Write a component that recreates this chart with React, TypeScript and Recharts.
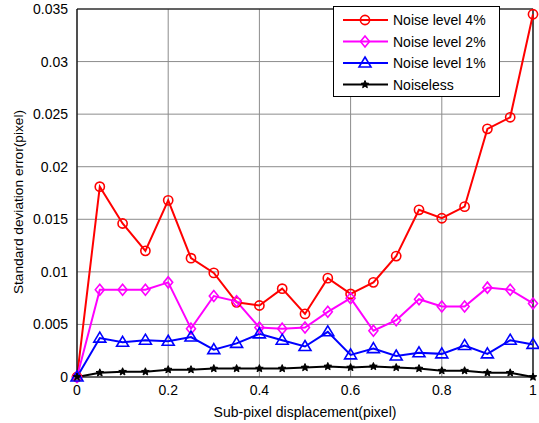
import {
  LineChart,
  Line,
  XAxis,
  YAxis,
  CartesianGrid,
  ReferenceLine,
  Label,
} from "recharts";

const displacement = [
  0, 0.05, 0.1, 0.15, 0.2, 0.25, 0.3, 0.35, 0.4, 0.45, 0.5, 0.55, 0.6, 0.65,
  0.7, 0.75, 0.8, 0.85, 0.9, 0.95, 1,
];
const noise4 = [
  0, 0.0181, 0.0146, 0.012, 0.0168, 0.0113, 0.0099, 0.0071, 0.0068, 0.0084,
  0.006, 0.0094, 0.0079, 0.009, 0.0115, 0.0159, 0.0151, 0.0162, 0.0236,
  0.0247, 0.0345,
];
const noise2 = [
  0, 0.0083, 0.0083, 0.0083, 0.009, 0.0046, 0.0077, 0.0072, 0.0047, 0.0046,
  0.0047, 0.0062, 0.0075, 0.0044, 0.0054, 0.0074, 0.0067, 0.0067, 0.0085,
  0.0083, 0.007,
];
const noise1 = [
  0, 0.0037, 0.0033, 0.0035, 0.0034, 0.0038, 0.0026, 0.0032, 0.0041, 0.0035,
  0.0029, 0.0043, 0.0021, 0.0027, 0.002, 0.0023, 0.0022, 0.003, 0.0022,
  0.0035, 0.0031,
];
const noiseless = [
  0, 0.0004, 0.0005, 0.0005, 0.0007, 0.0007, 0.0008, 0.0008, 0.0008, 0.0008,
  0.0009, 0.001, 0.0009, 0.001, 0.0009, 0.0008, 0.0006, 0.0006, 0.0004,
  0.0004, 0,
];
const xTicks = [0, 0.2, 0.4, 0.6, 0.8, 1];
const yTicks = [0, 0.005, 0.01, 0.015, 0.02, 0.025, 0.03, 0.035];

const data = displacement.map((x, i) => ({
  x,
  n4: noise4[i],
  n2: noise2[i],
  n1: noise1[i],
  n0: noiseless[i],
}));

const FONT = "'Liberation Sans', Arial, sans-serif";

type Marker = (cx: number, cy: number, color: string, key?: any) => JSX.Element;

const circle: Marker = (cx, cy, color, key) => (
  <circle key={key} cx={cx} cy={cy} r={4.6} fill="none" stroke={color} strokeWidth={1.6} />
);
const diamond: Marker = (cx, cy, color, key) => (
  <path
    key={key}
    d={`M${cx},${cy - 5.5}L${cx + 4.5},${cy}L${cx},${cy + 5.5}L${cx - 4.5},${cy}Z`}
    fill="none"
    stroke={color}
    strokeWidth={1.6}
  />
);
const triangle: Marker = (cx, cy, color, key) => (
  <path
    key={key}
    d={`M${cx},${cy - 6}L${cx + 6},${cy + 4}L${cx - 6},${cy + 4}Z`}
    fill="none"
    stroke={color}
    strokeWidth={1.6}
  />
);
const star: Marker = (cx, cy, color, key) => {
  const pts: string[] = [];
  for (let k = 0; k < 10; k++) {
    const r = k % 2 === 0 ? 4 : 1.8;
    const a = -Math.PI / 2 + (k * Math.PI) / 5;
    pts.push(`${cx + r * Math.cos(a)},${cy + r * Math.sin(a)}`);
  }
  return <polygon key={key} points={pts.join(" ")} fill={color} stroke={color} strokeWidth={1} />;
};

const series = [
  { key: "n4", name: "Noise level 4%", color: "#ff0000", marker: circle },
  { key: "n2", name: "Noise level 2%", color: "#ff00ff", marker: diamond },
  { key: "n1", name: "Noise level 1%", color: "#0000ff", marker: triangle },
  { key: "n0", name: "Noiseless", color: "#000000", marker: star },
];

const fmtX = (v: number) => String(v);

function LegendBox() {
  return (
    <svg
      width={167}
      height={91}
      style={{ position: "absolute", left: 333, top: 6 }}
    >
      <rect x={0.5} y={0.5} width={166} height={90} fill="#fff" stroke="#000" strokeWidth={1} />
      {series.map((s, i) => {
        const y = 14 + i * 21.5;
        return (
          <g key={s.key}>
            <line x1={10} x2={55} y1={y} y2={y} stroke={s.color} strokeWidth={2} />
            {s.marker(32, y, s.color)}
            <text x={60} y={y + 5} fontSize={14} fontFamily={FONT} fill="#000">
              {s.name}
            </text>
          </g>
        );
      })}
    </svg>
  );
}

export default function App() {
  return (
    <div style={{ position: "absolute", left: 0, top: 0, width: 539, height: 423, background: "#fff" }}>
      <LineChart
        width={539}
        height={423}
        data={data}
        margin={{ top: 9, right: 6, bottom: 16, left: 17 }}
      >
        <CartesianGrid stroke="#8c8c8c" strokeWidth={1} />
        <XAxis
          dataKey="x"
          type="number"
          domain={[0, 1]}
          ticks={xTicks}
          tickFormatter={fmtX}
          tickLine={false}
          axisLine={{ stroke: "#000", strokeWidth: 1.2 }}
          height={30}
          tick={{ fill: "#000", fontSize: 14, fontFamily: FONT }}
          tickMargin={2}
        >
          <Label
            value="Sub-pixel displacement(pixel)"
            position="insideBottom"
            offset={-10}
            style={{ fill: "#000", fontSize: 14, fontFamily: FONT }}
          />
        </XAxis>
        <YAxis
          type="number"
          domain={[0, 0.035]}
          ticks={yTicks}
          tickLine={false}
          axisLine={{ stroke: "#000", strokeWidth: 1.2 }}
          width={60}
          tick={{ fill: "#000", fontSize: 14, fontFamily: FONT }}
          tickMargin={3}
        >
          <Label
            content={() => (
              <text
                x={0}
                y={0}
                transform="translate(23,202) rotate(-90)"
                textAnchor="middle"
                fontSize={13.7}
                fontFamily={FONT}
                fill="#000"
              >
                Standard deviation error(pixel)
              </text>
            )}
          />
        </YAxis>
        <ReferenceLine y={0.035} stroke="#000" strokeWidth={1.2} />
        <ReferenceLine x={1} stroke="#000" strokeWidth={1.2} />
        {series.map((s) => (
          <Line
            key={s.key}
            dataKey={s.key}
            name={s.name}
            stroke={s.color}
            strokeWidth={2}
            isAnimationActive={false}
            dot={(p: any) => s.marker(p.cx, p.cy, s.color, p.index)}
            activeDot={false}
          />
        ))}
      </LineChart>
      <LegendBox />
    </div>
  );
}
